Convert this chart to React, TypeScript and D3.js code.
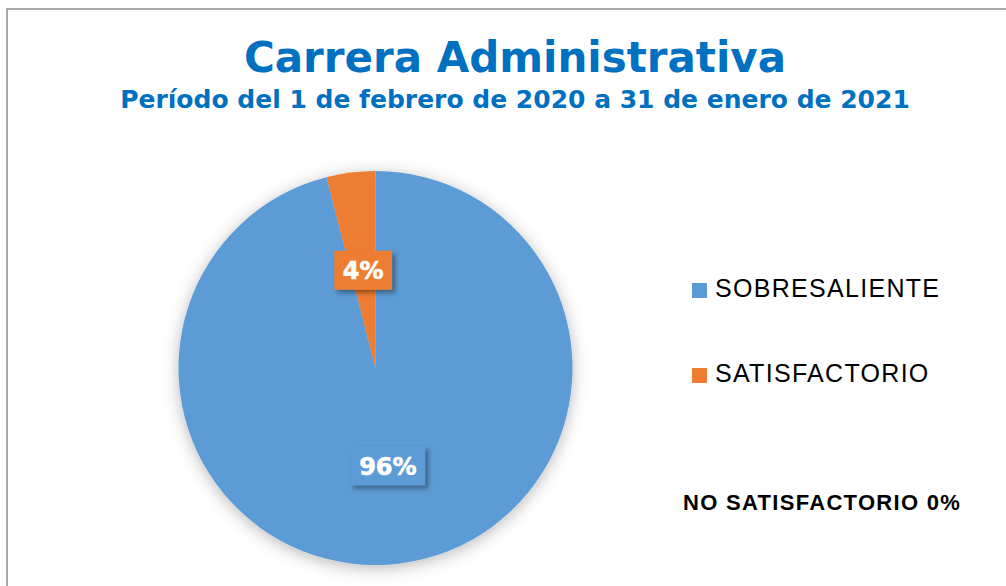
import React from 'react';
import * as d3 from 'd3';

const categories = ['SOBRESALIENTE', 'SATISFACTORIO'];
const values = [96, 4];
const labels = ['96%', '4%'];
const colors = ['#5B9BD5', '#ED7D31'];
const note = 'NO SATISFACTORIO 0%';

const title = 'Carrera Administrativa';
const subtitle = 'Período del 1 de febrero de 2020 a 31 de enero de 2021';

export default function App() {
  const width = 1006;
  const height = 586;
  const cx = 375.5;
  const cy = 368;
  const radius = 197;

  const pie = d3.pie<number>().sort(null).value(d => d);
  const arcs = pie(values);
  const arc = d3.arc<d3.PieArcDatum<number>>().innerRadius(0).outerRadius(radius);
  // labels sit at half radius, like the Excel default
  const labelArc = d3.arc<d3.PieArcDatum<number>>().innerRadius(radius / 2).outerRadius(radius / 2);

  const labelFont = 'DejaVu Sans, sans-serif';
  // approx text widths for box sizing (DejaVu Sans Bold 24px)
  const charW: Record<string, number> = { '%': 24.05 };
  const textW = (s: string) => s.split('').reduce((a, c) => a + (charW[c] ?? 16.7), 0);

  return (
    <svg width={width} height={height} style={{ position: 'absolute', left: 0, top: 0, background: '#fff' }}>
      <defs>
        <filter id="pieShadow" x="-20%" y="-20%" width="140%" height="140%">
          <feDropShadow dx="0" dy="3" stdDeviation="8" floodColor="#000" floodOpacity="0.28" />
        </filter>
        <filter id="boxShadow" x="-30%" y="-30%" width="160%" height="160%">
          <feDropShadow dx="3" dy="3" stdDeviation="2.5" floodColor="#000" floodOpacity="0.4" />
        </filter>
      </defs>

      <rect x={7} y={9} width={1010} height={600} fill="#fff" stroke="#8c8c8c" strokeWidth={1.5} />

      <text x={515} y={72} textAnchor="middle" fill="#0070C0" fontFamily="DejaVu Sans, sans-serif"
        fontWeight="bold" fontSize={42}>{title}</text>
      <text x={515} y={108} textAnchor="middle" fill="#0070C0" fontFamily="DejaVu Sans, sans-serif"
        fontWeight="bold" fontSize={25}>{subtitle}</text>

      <g transform={`translate(${cx},${cy})`}>
        <g filter="url(#pieShadow)">
          {arcs.map((a, i) => (
            <path key={categories[i]} d={arc(a) || ''} fill={colors[i]} />
          ))}
        </g>
        {arcs.map((a, i) => {
          const [lx, ly] = labelArc.centroid(a);
          const w = textW(labels[i]) + 17;
          const h = 39;
          return (
            <g key={'lbl' + i}>
              <rect x={lx - w / 2} y={ly - h / 2} width={w} height={h} fill={colors[i]} filter="url(#boxShadow)" />
              <text x={lx} y={ly + 9} textAnchor="middle" fill="#fff" fontFamily={labelFont}
                fontWeight="bold" fontSize={24} stroke="#fff" strokeWidth={0.6}>{labels[i]}</text>
            </g>
          );
        })}
      </g>

      {categories.map((c, i) => (
        <g key={c} transform={`translate(692,${283 + i * 85})`}>
          <rect x={0} y={0} width={15} height={15} fill={colors[i]} />
          <text x={23} y={14} fill="#000" fontFamily="Liberation Sans, Arial, sans-serif" fontSize={25}
            letterSpacing={1.3}>{c}</text>
        </g>
      ))}

      <text x={683} y={510} fill="#000" fontFamily="Liberation Sans, Arial, sans-serif" fontWeight="bold"
        fontSize={22} letterSpacing={1.3}>{note}</text>
    </svg>
  );
}
